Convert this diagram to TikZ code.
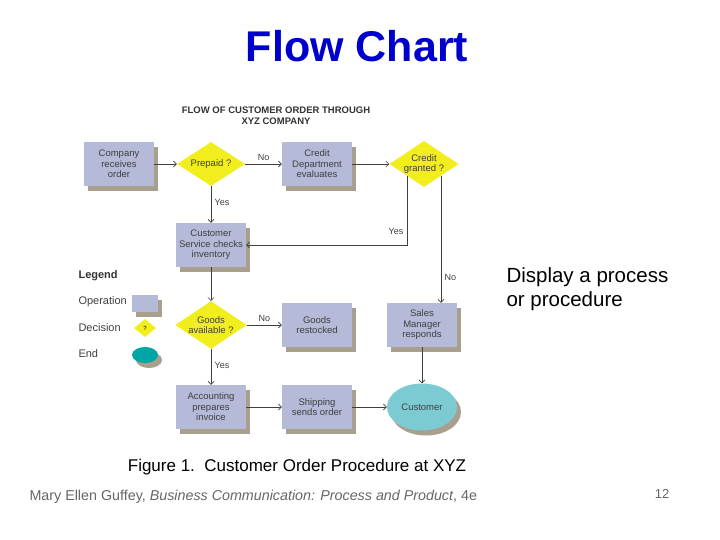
\documentclass[tikz,border=0pt]{standalone}
\usepackage{fontspec}
\setmainfont{Liberation Sans}
\usetikzlibrary{shapes.geometric,arrows.meta}
\definecolor{opc}{HTML}{B4BAD8}
\definecolor{shd}{HTML}{A8A08C}
\definecolor{dec}{HTML}{F2EE1E}
\definecolor{endc}{HTML}{7CCAD2}
\definecolor{ttl}{HTML}{0000CC}
\begin{document}
\begin{tikzpicture}[x=1pt,y=-1pt,
  op/.style={fill=opc,minimum width=70pt,minimum height=44pt,align=center,font=\fontsize{9.5}{10.5}\selectfont,text=black!75,inner sep=1pt},
  shadowed/.style={preaction={fill=shd,transform canvas={xshift=4pt,yshift=-5pt}}},
  dc/.style={diamond,fill=dec,minimum width=68pt,minimum height=44pt,aspect=1.5,inner sep=0pt,align=center,font=\fontsize{9.5}{10.5}\selectfont,text=black!75},
  ar/.style={-{Straight Barb[length=3pt,width=6pt]},black!75,line width=0.6pt},
  lb/.style={font=\fontsize{9}{10}\selectfont,text=black!75}]
\useasboundingbox (0,0) rectangle (720,540);
\fill[white] (0,0) rectangle (720,540);
\node[font=\fontsize{43}{45}\selectfont\bfseries,text=ttl] (title) at (357,46) {Flow Chart};
\node[font=\fontsize{9.5}{11}\selectfont\bfseries,align=center,text=black!80] (head) at (276,116) {FLOW OF CUSTOMER ORDER THROUGH\\XYZ COMPANY};
% operations
\node[op,shadowed] (co) at (119,164) {Company\\receives\\order};
\node[dc] (pp) at (211,164) {Prepaid ?};
\node[op,shadowed] (cd) at (317,164) {Credit\\Department\\evaluates};
\node[dc] (cg) at (424,164) {Credit\\granted ?};
\node[op,shadowed] (cs) at (211,245) {Customer\\Service checks\\inventory};
\node[dc] (ga) at (211,325) {Goods\\available ?};
\node[op,shadowed] (gr) at (317,325) {Goods\\restocked};
\node[op,shadowed] (sm) at (422,325) {Sales\\Manager\\responds};
\node[op,shadowed] (ac) at (211,407) {Accounting\\prepares\\invoice};
\node[op,shadowed] (sh) at (317,407) {Shipping\\sends order};
\node[ellipse,fill=endc,minimum width=70pt,minimum height=47pt,font=\fontsize{9.5}{10.5}\selectfont,text=black!75,shadowed] (cu) at (422,407) {Customer};
% arrows
\draw[ar] (co) -- (pp);
\draw[ar] (pp) -- node[lb,above] {No} (cd);
\draw[ar] (cd) -- (cg);
\draw[ar] (pp) -- node[lb,right,pos=0.45] {Yes} (cs);
\coordinate (y1) at (407,176);
\coordinate (y2) at (407,245);
\draw[ar] (y1) -- (y2) node[lb,pos=0.8,left] {Yes} -- (cs.east);
\coordinate (n1) at (441,176);
\draw[ar] (n1) -- node[lb,right,pos=0.8] {No} (n1 |- sm.north);
\draw[ar] (cs) -- (ga);
\draw[ar] (ga) -- node[lb,above] {No} (gr);
\draw[ar] (ga) -- node[lb,right,pos=0.45] {Yes} (ac);
\draw[ar] (ac) -- (sh);
\draw[ar] (sh) -- (cu);
\draw[ar] (sm) -- (cu);
% legend
\node[font=\fontsize{11}{12}\selectfont\bfseries,text=black!80,anchor=west] (lg) at (75,276) {Legend};
\node[font=\fontsize{11}{12}\selectfont,text=black!75,anchor=west] (lo) at (75,302) {Operation};
\node[font=\fontsize{11}{12}\selectfont,text=black!75,anchor=west] (ld) at (75,328) {Decision};
\node[font=\fontsize{11}{12}\selectfont,text=black!75,anchor=west] (le) at (75,354) {End};
\node[fill=opc,minimum width=26pt,minimum height=17pt,shadowed] (lo2) at (145,303) {};
\node[diamond,fill=dec,minimum width=22pt,minimum height=18pt,inner sep=0pt,font=\fontsize{6}{6}\selectfont] (ld2) at (145,328) {?};
\node[ellipse,fill=teal!70!cyan,minimum width=26pt,minimum height=16pt,shadowed] (le2) at (145,355) {};
% texts
\node[font=\fontsize{20.5}{24}\selectfont,align=left,anchor=north west] (dp) at (503,264) {Display a process\\or procedure};
\node[font=\fontsize{17}{20}\selectfont] (fig) at (297,467) {Figure 1.\ \ Customer Order Procedure at XYZ};
\node[font=\fontsize{14.3}{16}\selectfont,text=black!60,anchor=west] (ft) at (26,497) {Mary Ellen Guffey, \textit{Business Communication: Process and Product}, 4e};
\node[font=\fontsize{13}{15}\selectfont,text=black!60] (pg) at (662,494) {12};
\end{tikzpicture}
\end{document}
